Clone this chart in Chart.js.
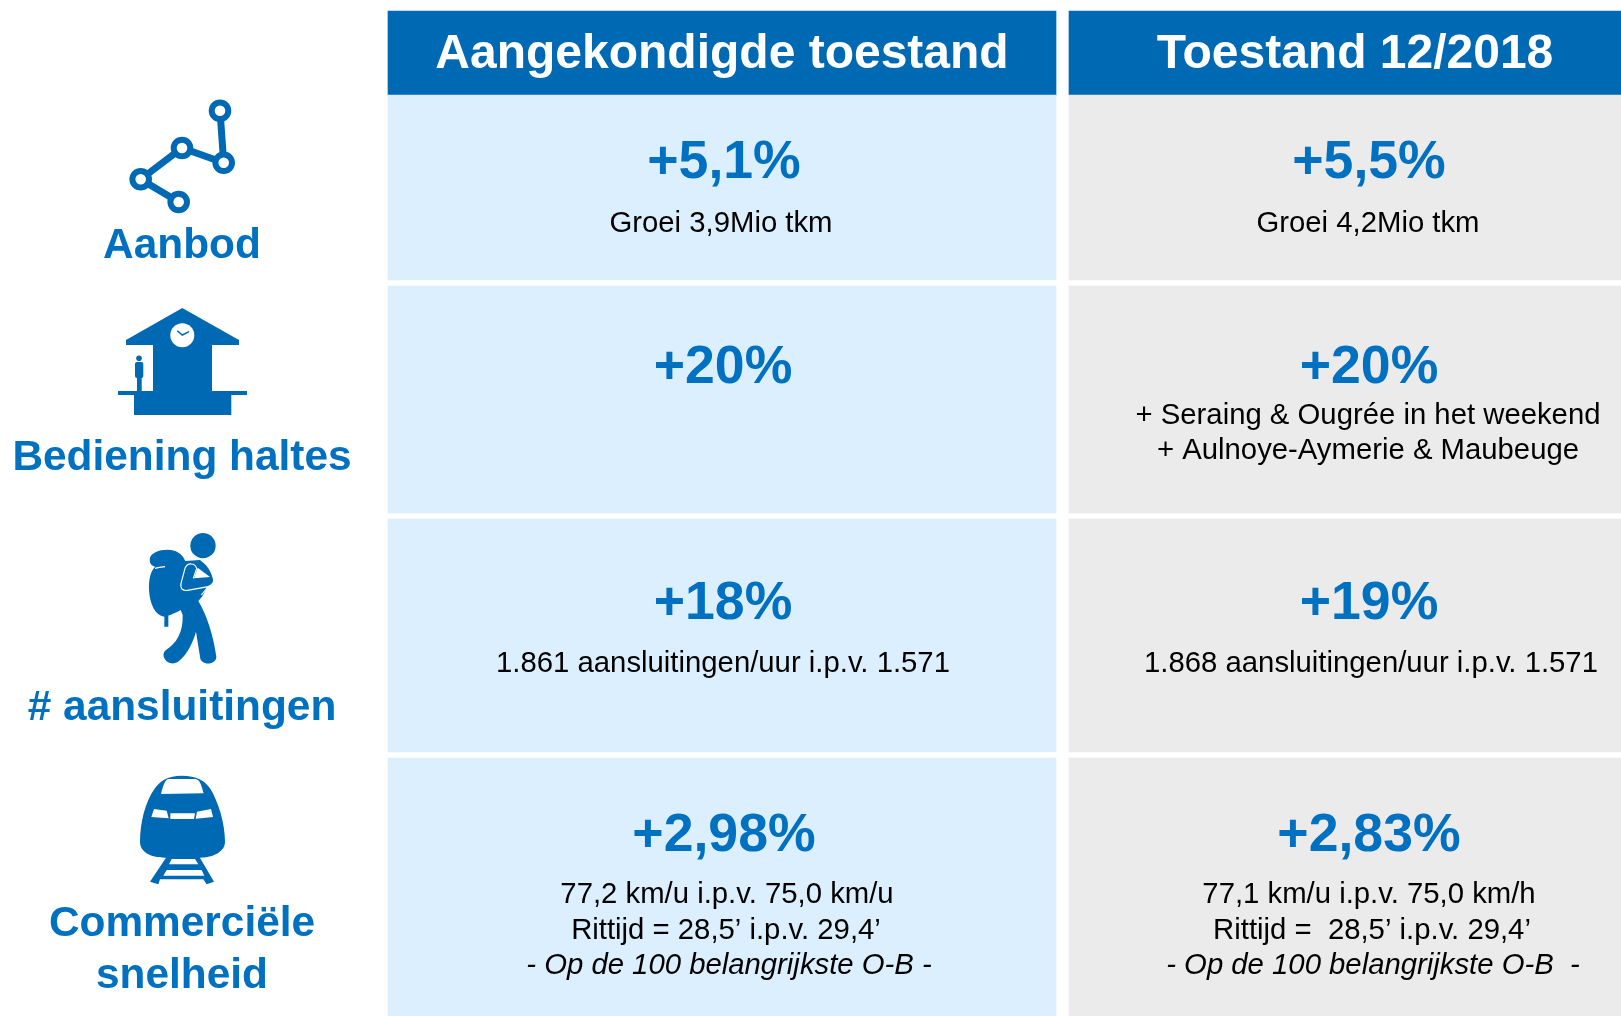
<!DOCTYPE html>
<html>
<head>
<meta charset="utf-8">
<style>
    html, body { margin: 0; padding: 0; background: #fff; overflow: hidden; }
    canvas { display: block; }
</style>
<script src="https://cdn.jsdelivr.net/npm/chart.js@4"></script>
</head>
<body>
<canvas id="myChart" width="1621" height="1016"></canvas>
<script>
// the numbers and texts of the table
const columnTitles = ['Aangekondigde toestand', 'Toestand 12/2018'];
const rowTitles = [['Aanbod'], ['Bediening haltes'], ['# aansluitingen'], ['Commerciële', 'snelheid']];
const announcedGrowth = [5.1, 20, 18, 2.98];
const actualGrowth = [5.5, 20, 19, 2.83];
const announcedNotes = [
    ['Groei 3,9Mio tkm'],
    [],
    ['1.861 aansluitingen/uur i.p.v. 1.571'],
    ['77,2 km/u i.p.v. 75,0 km/u', 'Rittijd = 28,5’ i.p.v. 29,4’', '- Op de 100 belangrijkste O-B -']
];
const actualNotes = [
    ['Groei 4,2Mio tkm'],
    ['+ Seraing & Ougrée in het weekend', '+ Aulnoye-Aymerie & Maubeuge'],
    ['1.868 aansluitingen/uur i.p.v. 1.571'],
    ['77,1 km/u i.p.v. 75,0 km/h', 'Rittijd =  28,5’ i.p.v. 29,4’', '- Op de 100 belangrijkste O-B  -']
];

// layout of the table, in page pixels
const columnEdges = [[388, 1056], [1069, 1621]];
const rowEdges = [[11, 95], [95, 280], [286, 513], [519, 752], [758, 1016]];
const cellColors = ['#dcefff', '#ebebeb'];
const HEADER_BLUE = '#0069b4';
const TEXT_BLUE = '#0070c0';
const FONT = '"Liberation Sans", Arial, sans-serif';

const headerPos = [{ x: 722, y: 68 }, { x: 1355, y: 68 }];
const growthY = [178, 383, 619, 851];
const growthX = [[724, 723, 723, 724], [1369, 1369, 1369, 1369]];
const noteY = [[232], [424, 459], [672], [903, 939, 974]];
const noteX = [
    [[721], [], [723], [727, 726, 729]],
    [[1368], [1368, 1368], [1371], [1369, 1372, 1373]]
];
const rowTitleY = [[258], [470], [720], [936, 988]];

const ICON_BACKPACK = 'M150 128C155 110 195 98 225 108C240 113 250 125 256 138L300 135C320 150 332 165 338 190C342 200 335 210 325 212L306 245L295 258C320 300 340 360 349 425C349 452 300 452 300 425L288 350C275 395 255 425 232 442C202 456 178 420 198 405C230 385 250 350 248 300L242 285C225 295 210 300 205 302L205 335L193 335L193 305C165 300 150 270 147 225C146 190 152 170 165 155C150 150 148 140 150 128Z';
const ICON_BACKPACK_LINES = 'M255 160L243 205C240 222 250 228 262 226L325 215M255 160C262 142 285 143 290 160L280 190M165 160C175 157 185 156 195 155M322 218L304 240';
const ICON_BACKPACK_GAP = 'M293 158L330 186L282 190Z';
const ICON_TRAIN = 'M215 47C260 47 285 62 300 85C325 125 345 190 345 245C345 275 310 292 270 293L165 293C120 292 90 275 90 245C90 190 105 125 135 85C150 62 175 47 215 47Z';
const ICON_TRAIN_RAILS = 'M170 290L268 290L312 365L290 373L280 358L150 358L145 373L120 365Z';
const ICON_TRAIN_WHITE = 'M175 57L255 57C268 58 272 68 281 100L153 102C160 75 165 60 175 57ZM132 147L170 152L176 175L124 171ZM181 160L255 160L252 177L181 177ZM261 155L303 147L309 171L257 176ZM185 297L255 297L265 313L177 313ZM170 330L275 330L283 347L160 347Z';
const ICON_STATION = 'M182.3 308L239 340L239 345L212 345L212 391L247 391L247 395L231.3 395L231.3 415L134 415L134 395L118 395L118 391L153 391L153 345L126 345L126 340Z';

function formatGrowth(v) {
    return '+' + String(v).replace('.', ',') + '%';
}

// one bar per table cell, header first
function buildDataset(col) {
    const edges = columnEdges[col];
    return {
        label: columnTitles[col],
        data: rowEdges.map(r => ({ x: (edges[0] + edges[1]) / 2, y: r })),
        barThickness: edges[1] - edges[0],
        backgroundColor: rowEdges.map((r, i) => i === 0 ? HEADER_BLUE : cellColors[col]),
        borderWidth: 0,
        grouped: false
    };
}

function drawIcon(ctx, ox, oy, fn) {
    ctx.save();
    ctx.translate(ox, oy);
    ctx.scale(1 / 3, 1 / 3);
    fn();
    ctx.restore();
}

function drawIcons(ctx) {
    ctx.fillStyle = HEADER_BLUE;
    ctx.strokeStyle = HEADER_BLUE;

    // Aanbod: line with stops
    const stops = [[178.7, 202], [140.7, 179.3], [182, 148], [223.7, 162.7], [220, 110.7]];
    ctx.lineWidth = 7;
    ctx.beginPath();
    stops.forEach((p, i) => i ? ctx.lineTo(p[0], p[1]) : ctx.moveTo(p[0], p[1]));
    ctx.stroke();
    ctx.lineWidth = 6;
    stops.forEach(p => {
        ctx.beginPath();
        ctx.arc(p[0], p[1], 8.3, 0, Math.PI * 2);
        ctx.fillStyle = '#fff';
        ctx.fill();
        ctx.stroke();
    });

    // Bediening haltes: station with clock and person
    ctx.fillStyle = HEADER_BLUE;
    ctx.fill(new Path2D(ICON_STATION));
    ctx.beginPath();
    ctx.arc(182.3, 335.3, 12, 0, Math.PI * 2);
    ctx.fillStyle = '#fff';
    ctx.fill();
    ctx.lineWidth = 1.5;
    ctx.beginPath();
    ctx.moveTo(177.3, 330.7);
    ctx.lineTo(182.3, 335);
    ctx.lineTo(189, 331.7);
    ctx.stroke();
    ctx.fillStyle = HEADER_BLUE;
    ctx.beginPath();
    ctx.arc(139, 358.3, 2.8, 0, Math.PI * 2);
    ctx.fill();
    ctx.beginPath();
    ctx.roundRect(135, 362, 8.3, 16, 2);
    ctx.fill();
    ctx.fillRect(137, 377, 4.7, 14);

    // aansluitingen: walker with backpack
    drawIcon(ctx, 100, 515, () => {
        ctx.fillStyle = HEADER_BLUE;
        ctx.beginPath();
        ctx.arc(309, 92, 38, 0, Math.PI * 2);
        ctx.fill();
        ctx.fill(new Path2D(ICON_BACKPACK));
        ctx.fillStyle = '#fff';
        ctx.fill(new Path2D(ICON_BACKPACK_GAP));
        ctx.strokeStyle = '#fff';
        ctx.lineWidth = 3.5;
        ctx.stroke(new Path2D(ICON_BACKPACK_LINES));
    });

    // snelheid: train front
    drawIcon(ctx, 110, 760, () => {
        ctx.fillStyle = HEADER_BLUE;
        ctx.fill(new Path2D(ICON_TRAIN_RAILS));
        ctx.fill(new Path2D(ICON_TRAIN));
        ctx.fillStyle = '#fff';
        ctx.fill(new Path2D(ICON_TRAIN_WHITE));
    });
}

function drawCenter(ctx, text, x, y, font, color) {
    ctx.font = font;
    ctx.fillStyle = color;
    ctx.fillText(text, x, y);
}

const tableText = {
    id: 'tableText',
    afterDatasetsDraw(chart) {
        const ctx = chart.ctx;
        ctx.save();
        drawIcons(ctx);
        ctx.textAlign = 'center';
        ctx.textBaseline = 'alphabetic';

        columnTitles.forEach((t, i) => {
            drawCenter(ctx, t, headerPos[i].x, headerPos[i].y, 'bold 48px ' + FONT, '#fff');
        });
        rowTitles.forEach((lines, i) => {
            lines.forEach((t, j) => {
                drawCenter(ctx, t, 182, rowTitleY[i][j], 'bold 42.4px ' + FONT, TEXT_BLUE);
            });
        });
        [announcedGrowth, actualGrowth].forEach((values, c) => {
            values.forEach((v, i) => {
                drawCenter(ctx, formatGrowth(v), growthX[c][i], growthY[i], 'bold 53.6px ' + FONT, TEXT_BLUE);
            });
        });
        [announcedNotes, actualNotes].forEach((notes, c) => {
            notes.forEach((lines, i) => {
                lines.forEach((t, j) => {
                    const italic = t.startsWith('- Op');
                    drawCenter(ctx, t, noteX[c][i][j], noteY[i][j], (italic ? 'italic ' : '') + '29.3px ' + FONT, '#000');
                });
            });
        });
        ctx.restore();
    }
};

const ctx = document.getElementById('myChart').getContext('2d');

const myChart = new Chart(ctx, {
    type: 'bar',
    data: { datasets: [buildDataset(0), buildDataset(1)] },
    options: {
        responsive: false,
        animation: false,
        layout: { padding: 0 },
        plugins: { legend: { display: false }, tooltip: { enabled: false } },
        scales: {
            x: { type: 'linear', offset: false, min: 0, max: 1621, display: false },
            y: { type: 'linear', min: 0, max: 1016, reverse: true, display: false }
        }
    },
    plugins: [tableText]
});
</script>
</body>
</html>
